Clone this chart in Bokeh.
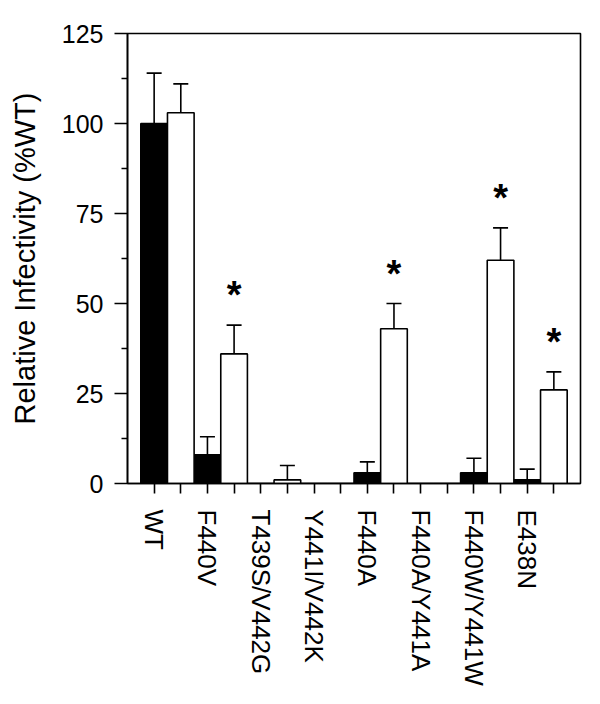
from bokeh.plotting import figure
from bokeh.models import ColumnDataSource, Whisker, TeeHead, FixedTicker, Range1d
from bokeh.core.properties import value
from bokeh.embed import file_html
from bokeh.resources import INLINE

categories = ["WT", "F440V", "T439S/V442G", "Y441I/V442K", "F440A",
              "F440A/Y441A", "F440W/Y441W", "E438N"]
black_vals = [100, 8, 0, 0, 3, 0, 3, 1]
black_errs = [14, 5, 0, 0, 3, 0, 4, 3]
white_vals = [103, 36, 1, 0, 43, 0, 62, 26]
white_errs = [8, 8, 4, 0, 7, 0, 9, 5]
significant = [False, True, False, False, True, False, True, True]
y_ticks = [0, 25, 50, 75, 100, 125]

FONT = "Liberation Sans"

n = len(categories)
xb = [2 * i + 1 for i in range(n)]
xw = [2 * i + 2 for i in range(n)]

p = figure(frame_width=453, frame_height=450,
           min_border_left=127, min_border_top=33,
           min_border_right=12, min_border_bottom=213,
           x_range=Range1d(0, 2 * n + 1), y_range=Range1d(0, 125),
           output_backend="svg", toolbar_location=None,
           background_fill_color="white", border_fill_color="white")

p.xgrid.visible = False
p.ygrid.visible = False
p.outline_line_color = "black"
p.outline_line_width = 1.6
p.outline_line_alpha = 1.0

# bars
p.vbar(x=xb, top=black_vals, width=1.0, fill_color="black",
       line_color="black", line_width=1.6)
p.vbar(x=xw, top=white_vals, width=1.0, fill_color="white",
       line_color="black", line_width=1.6)

# error bars (upper only)
ex, elo, ehi = [], [], []
for i in range(n):
    if black_errs[i] > 0:
        ex.append(xb[i]); elo.append(black_vals[i]); ehi.append(black_vals[i] + black_errs[i])
    if white_errs[i] > 0:
        ex.append(xw[i]); elo.append(white_vals[i]); ehi.append(white_vals[i] + white_errs[i])
esrc = ColumnDataSource(dict(x=ex, lower=elo, upper=ehi))
w = Whisker(source=esrc, base="x", lower="lower", upper="upper",
            line_color="black", line_width=1.6,
            upper_head=TeeHead(size=15, line_color="black", line_width=1.6),
            lower_head=None)
p.add_layout(w)

# significance stars
sx = [xw[i] for i in range(n) if significant[i]]
sy = [white_vals[i] + white_errs[i] for i in range(n) if significant[i]]
p.text(x=sx, y=sy, text=["*"] * len(sx), text_font=value(FONT),
       text_font_size="38px", text_font_style="bold",
       text_align="center", text_baseline="alphabetic",
       y_offset=-30, text_color="black")

# y axis
ya = p.yaxis[0]
ya.ticker = FixedTicker(ticks=y_ticks,
                        minor_ticks=[12.5, 37.5, 62.5, 87.5, 112.5])
ya.axis_label = "Relative Infectivity (%WT)"
ya.axis_label_text_font = FONT
ya.axis_label_text_font_size = "29px"
ya.axis_label_text_font_style = "normal"
ya.axis_label_text_color = "black"
ya.axis_label_standoff = 18
ya.major_label_text_font = FONT
ya.major_label_text_font_size = "25px"
ya.major_label_text_color = "black"
ya.major_label_standoff = 11
ya.major_tick_out = 13
ya.major_tick_in = 0
ya.minor_tick_out = 6
ya.minor_tick_in = 0
ya.axis_line_width = 1.6
ya.major_tick_line_width = 1.6
ya.minor_tick_line_width = 1.6
ya.axis_line_color = "black"
ya.major_tick_line_color = "black"
ya.minor_tick_line_color = "black"

# x axis
xa = p.xaxis[0]
all_ticks = list(range(1, 2 * n + 1))
xa.ticker = FixedTicker(ticks=all_ticks, minor_ticks=[])
overrides = {t: "" for t in all_ticks}
for i in range(n):
    overrides[xb[i]] = categories[i]
xa.major_label_overrides = overrides
xa.major_label_orientation = "vertical"
xa.major_label_text_font = FONT
xa.major_label_text_font_size = "26px"
xa.major_label_text_color = "black"
xa.major_label_standoff = 16
xa.major_tick_out = 10
xa.major_tick_in = 0
xa.minor_tick_out = 0
xa.axis_line_width = 1.6
xa.major_tick_line_width = 1.6
xa.axis_line_color = "black"
xa.major_tick_line_color = "black"

open("out.html", "w").write(file_html(p, INLINE))
